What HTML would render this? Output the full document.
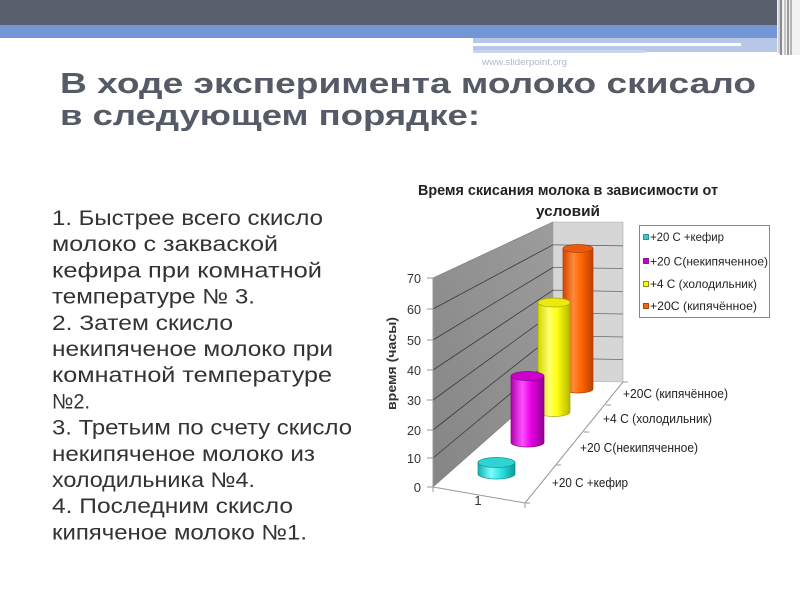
<!DOCTYPE html>
<html><head><meta charset="utf-8"><style>
html,body{margin:0;padding:0;background:#fff;}
svg{display:block;}
</style></head><body>
<svg width="800" height="600" viewBox="0 0 800 600" xmlns="http://www.w3.org/2000/svg">
<defs>
<linearGradient id="gc" x1="0" x2="1" y1="0" y2="0"><stop offset="0" stop-color="#12b0b0"/><stop offset="0.35" stop-color="#7ffcfc"/><stop offset="0.6" stop-color="#33e6e6"/><stop offset="1" stop-color="#0a9a9a"/></linearGradient>
<linearGradient id="gm" x1="0" x2="1" y1="0" y2="0"><stop offset="0" stop-color="#b000b0"/><stop offset="0.35" stop-color="#ff50ff"/><stop offset="0.6" stop-color="#e800e8"/><stop offset="1" stop-color="#900090"/></linearGradient>
<linearGradient id="gy" x1="0" x2="1" y1="0" y2="0"><stop offset="0" stop-color="#d4d400"/><stop offset="0.35" stop-color="#ffff70"/><stop offset="0.6" stop-color="#ffff10"/><stop offset="1" stop-color="#b8b800"/></linearGradient>
<linearGradient id="go" x1="0" x2="1" y1="0" y2="0"><stop offset="0" stop-color="#d44400"/><stop offset="0.35" stop-color="#ff8a3a"/><stop offset="0.6" stop-color="#ff6600"/><stop offset="1" stop-color="#c04000"/></linearGradient>
<linearGradient id="gw" x1="0" x2="1" y1="1" y2="0"><stop offset="0" stop-color="#858585"/><stop offset="1" stop-color="#9c9c9c"/></linearGradient>
</defs>

<!-- header decoration -->
<rect x="0" y="0" width="777" height="25" fill="#5a5f6d"/>
<rect x="0" y="25" width="777" height="13" fill="#7397d6"/>
<rect x="473" y="38" width="304" height="14" fill="#b6c7e8"/>
<rect x="473" y="43" width="268" height="3" fill="#ffffff"/>
<rect x="473" y="50" width="172" height="3" fill="#c9d5ee"/>
<rect x="777" y="0" width="23" height="55" fill="#f2f2f2"/>
<rect x="778" y="0" width="2" height="53" fill="#d0d0d0"/>
<rect x="780" y="0" width="2" height="55" fill="#8a8a8a"/>
<rect x="784" y="0" width="2" height="55" fill="#c4c4c4"/>
<rect x="787" y="0" width="2" height="55" fill="#999"/>
<rect x="790" y="0" width="2" height="55" fill="#b4b4b4"/>

<text x="482" y="65" font-family="Liberation Sans, sans-serif" font-size="9" fill="#b0b8c8" textLength="85" lengthAdjust="spacingAndGlyphs">www.sliderpoint.org</text>

<!-- title -->
<g font-family="Liberation Sans, sans-serif" font-weight="bold" font-size="29" fill="#545a66">
<text x="60" y="93" textLength="696" lengthAdjust="spacingAndGlyphs">В ходе эксперимента молоко скисало</text>
<text x="60" y="125" textLength="420" lengthAdjust="spacingAndGlyphs">в следующем порядке:</text>
</g>

<!-- body text -->
<g font-family="Liberation Sans, sans-serif" font-size="21" fill="#333">
<text x="52" y="225" textLength="271" lengthAdjust="spacingAndGlyphs">1. Быстрее всего скисло</text>
<text x="52" y="251.2" textLength="226" lengthAdjust="spacingAndGlyphs">молоко с закваской</text>
<text x="52" y="277.4" textLength="270" lengthAdjust="spacingAndGlyphs">кефира при комнатной</text>
<text x="52" y="303.6" textLength="203" lengthAdjust="spacingAndGlyphs">температуре № 3.</text>
<text x="52" y="329.8" textLength="181" lengthAdjust="spacingAndGlyphs">2. Затем скисло</text>
<text x="52" y="356" textLength="281" lengthAdjust="spacingAndGlyphs">некипяченое молоко при</text>
<text x="52" y="382.2" textLength="280" lengthAdjust="spacingAndGlyphs">комнатной температуре</text>
<text x="52" y="408.4" textLength="38" lengthAdjust="spacingAndGlyphs">№2.</text>
<text x="52" y="434.6" textLength="300" lengthAdjust="spacingAndGlyphs">3. Третьим по счету скисло</text>
<text x="52" y="460.8" textLength="263" lengthAdjust="spacingAndGlyphs">некипяченое молоко из</text>
<text x="52" y="487" textLength="203" lengthAdjust="spacingAndGlyphs">холодильника №4.</text>
<text x="52" y="513.2" textLength="241" lengthAdjust="spacingAndGlyphs">4. Последним скисло</text>
<text x="52" y="539.4" textLength="255" lengthAdjust="spacingAndGlyphs">кипяченое молоко №1.</text>
</g>

<!-- chart title -->
<g font-family="Liberation Sans, sans-serif" font-weight="bold" font-size="15" fill="#222">
<text x="418" y="195" textLength="300" lengthAdjust="spacingAndGlyphs">Время скисания молока в зависимости от</text>
<text x="568" y="216" text-anchor="middle" textLength="64" lengthAdjust="spacingAndGlyphs">условий</text>
</g>

<!-- walls -->
<polygon points="433,278 553,222 553,381 433,487" fill="url(#gw)" stroke="#777" stroke-width="0.6"/>
<polygon points="553,222 623,222 623,382 553,381" fill="#d6d6d6" stroke="#aaa" stroke-width="0.6"/>
<g stroke="#3a3a3a" stroke-width="0.8" fill="none">
<line x1="433" y1="458" x2="553" y2="358.3"/>
<line x1="433" y1="430" x2="553" y2="335.6"/>
<line x1="433" y1="400" x2="553" y2="312.9"/>
<line x1="433" y1="370" x2="553" y2="290.2"/>
<line x1="433" y1="340" x2="553" y2="267.5"/>
<line x1="433" y1="309" x2="553" y2="244.8"/>
</g>
<g stroke="#6a6a6a" stroke-width="0.8" fill="none">
<line x1="553" y1="358.3" x2="623" y2="359.5"/>
<line x1="553" y1="335.6" x2="623" y2="337"/>
<line x1="553" y1="312.9" x2="623" y2="314"/>
<line x1="553" y1="290.2" x2="623" y2="291.5"/>
<line x1="553" y1="267.5" x2="623" y2="268.5"/>
<line x1="553" y1="244.8" x2="623" y2="245.8"/>
</g>
<!-- floor edges -->
<g stroke="#9a9a9a" stroke-width="1" fill="none">
<line x1="433" y1="487" x2="525" y2="503"/>
<line x1="525" y1="503" x2="623" y2="382"/>
<line x1="433" y1="278" x2="433" y2="487"/>
<line x1="427" y1="278" x2="433" y2="278"/>
<line x1="427" y1="309" x2="433" y2="309"/>
<line x1="427" y1="340" x2="433" y2="340"/>
<line x1="427" y1="370" x2="433" y2="370"/>
<line x1="427" y1="400" x2="433" y2="400"/>
<line x1="427" y1="430" x2="433" y2="430"/>
<line x1="427" y1="458" x2="433" y2="458"/>
<line x1="427" y1="487" x2="433" y2="487"/>
<line x1="433" y1="487" x2="433" y2="492"/>
<line x1="525" y1="503" x2="525" y2="508"/>
<line x1="525" y1="503" x2="530" y2="503"/>
<line x1="556" y1="465" x2="561" y2="465"/>
<line x1="584" y1="432" x2="589" y2="432"/>
<line x1="606" y1="405" x2="611" y2="405"/>
<line x1="623" y1="382" x2="628" y2="382"/>
</g>

<!-- cylinders (back to front) -->
<g stroke-width="0.7">
<path d="M563,248.5 L563,389 A15,4 0 0 0 593,389 L593,248.5 Z" fill="url(#go)" stroke="#b03c00"/>
<ellipse cx="578" cy="248.5" rx="15" ry="4" fill="#e85c10" stroke="#b03c00"/>
<path d="M538,302.5 L538,412 A16,4.5 0 0 0 570,412 L570,302.5 Z" fill="url(#gy)" stroke="#a8a800"/>
<ellipse cx="554" cy="302.5" rx="16" ry="4.5" fill="#eaea10" stroke="#a8a800"/>
<path d="M511,376 L511,442.5 A16.5,4.5 0 0 0 544,442.5 L544,376 Z" fill="url(#gm)" stroke="#8a008a"/>
<ellipse cx="527.5" cy="376" rx="16.5" ry="4.5" fill="#cc00cc" stroke="#8a008a"/>
<path d="M478,462.5 L478,474 A18.5,5 0 0 0 515,474 L515,462.5 Z" fill="url(#gc)" stroke="#0a8f8f"/>
<ellipse cx="496.5" cy="462.5" rx="18.5" ry="5" fill="#30d2d2" stroke="#0a8f8f"/>
</g>

<!-- axis labels -->
<g font-family="Liberation Sans, sans-serif" font-size="13" fill="#333" text-anchor="end">
<text x="421" y="283" textLength="14" lengthAdjust="spacingAndGlyphs">70</text>
<text x="421" y="314" textLength="14" lengthAdjust="spacingAndGlyphs">60</text>
<text x="421" y="345" textLength="14" lengthAdjust="spacingAndGlyphs">50</text>
<text x="421" y="375" textLength="14" lengthAdjust="spacingAndGlyphs">40</text>
<text x="421" y="405" textLength="14" lengthAdjust="spacingAndGlyphs">30</text>
<text x="421" y="435" textLength="14" lengthAdjust="spacingAndGlyphs">20</text>
<text x="421" y="463" textLength="14" lengthAdjust="spacingAndGlyphs">10</text>
<text x="421" y="492">0</text>
</g>
<text x="478" y="505" font-family="Liberation Sans, sans-serif" font-size="13" fill="#333" text-anchor="middle">1</text>
<text transform="translate(396,363.5) rotate(-90)" x="0" y="0" text-anchor="middle" font-family="Liberation Sans, sans-serif" font-weight="bold" font-size="13" fill="#333" textLength="93" lengthAdjust="spacingAndGlyphs">время (часы)</text>

<g font-family="Liberation Sans, sans-serif" font-size="13" fill="#222">
<text x="623" y="398" textLength="105" lengthAdjust="spacingAndGlyphs">+20C (кипячённое)</text>
<text x="603" y="423" textLength="109" lengthAdjust="spacingAndGlyphs">+4 C (холодильник)</text>
<text x="580" y="452" textLength="118" lengthAdjust="spacingAndGlyphs">+20 C(некипяченное)</text>
<text x="552" y="487" textLength="76" lengthAdjust="spacingAndGlyphs">+20 C +кефир</text>
</g>

<!-- legend -->
<rect x="639.5" y="225.5" width="130" height="92" fill="#fff" stroke="#888" stroke-width="1"/>
<rect x="643.5" y="234.5" width="5" height="5" fill="#33cccc" stroke="#1a7a7a" stroke-width="0.8"/>
<rect x="643.5" y="258.5" width="5" height="5" fill="#cc00cc" stroke="#700070" stroke-width="0.8"/>
<rect x="643.5" y="281.5" width="5" height="5" fill="#ffff00" stroke="#707000" stroke-width="0.8"/>
<rect x="643.5" y="303.5" width="5" height="5" fill="#ff6600" stroke="#803000" stroke-width="0.8"/>
<g font-family="Liberation Sans, sans-serif" font-size="12" fill="#222">
<text x="650" y="241" textLength="74" lengthAdjust="spacingAndGlyphs">+20 C +кефир</text>
<text x="650" y="265.5" textLength="118" lengthAdjust="spacingAndGlyphs">+20 C(некипяченное)</text>
<text x="650" y="288" textLength="107" lengthAdjust="spacingAndGlyphs">+4 C (холодильник)</text>
<text x="650" y="310" textLength="107" lengthAdjust="spacingAndGlyphs">+20C (кипячённое)</text>
</g>
</svg>
</body></html>
